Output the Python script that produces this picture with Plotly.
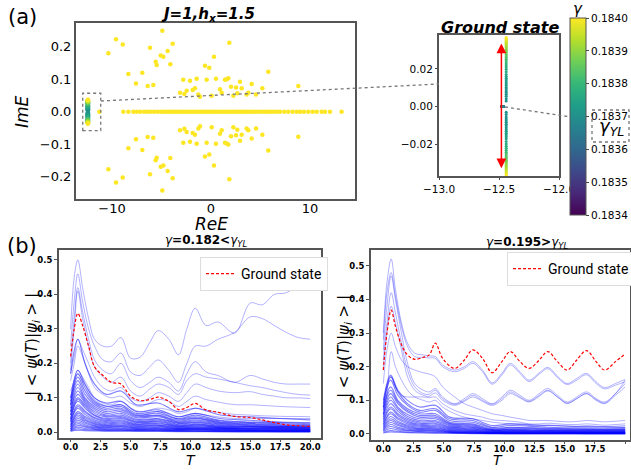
import plotly.graph_objects as go

W, H = 631, 470
def px(x): return x / W
def py(y): return 1 - y / H

# ---------------- (a) spectrum data ----------------
real_axis_re = [-11.28, -8.86, -8.35, -7.85, -7.5, -7.17, -6.77, -6.43, -6.09, -5.76, -5.42, -5.08, -4.81, -4.55,
                -4.3, -4.05, -3.8, -3.55, -3.3, -3.05, -2.8, -2.55, -2.3, -2.05, -1.8, -1.55, -1.3, -1.05, -0.8,
                -0.55, -0.3, -0.05, 0.2, 0.45, 0.7, 0.95, 1.2, 1.45, 1.7, 1.95, 2.2, 2.45, 2.7, 2.95, 3.2, 3.45,
                3.7, 3.95, 4.2, 4.5, 4.8, 5.1, 5.4, 5.7, 6.0, 6.3, 6.64, 6.97, 7.41, 7.81, 8.25, 8.66, 8.99, 9.39,
                9.83, 10.27, 10.67, 11.18, 11.52, 12.02, 13.2]
off_re = [-10.37, -9.6, -8.92, -8.35, -7.58, -6.94, -6.4, -6.16, -5.83, -5.59, -5.49, -5.08, -4.92, -4.81,
          -4.38, -4.11, -3.87, -3.13, -2.8, -2.69, -2.46, -2.12, -1.85, -1.62, -1.45, -1.28, -1.11, -0.61,
          -0.44, -0.17, 0.07, 0.3, 0.5, 0.91, 1.08, 1.41, 1.58, 1.75, 1.85, 2.02, 2.26, 2.53, 2.66, 2.93,
          3.1, 3.6, 3.77, 4.11, 4.55, 5.19, 5.79, 8.82]
off_im_upper = [0.180, 0.223, 0.207, 0.116, 0.087, 0.120, 0.079, 0.197, 0.082, 0.154, 0.144, 0.173, 0.249, 0.169,
                0.187, 0.146, 0.209, 0.058, 0.098, 0.054, 0.064, 0.095, 0.067, 0.072, 0.101, 0.053, 0.046, 0.141,
                0.098, 0.135, 0.049, 0.169, 0.101, 0.069, 0.058, 0.098, 0.100, 0.103, 0.212, 0.077, 0.049, 0.074,
                0.057, 0.092, 0.072, 0.053, 0.058, 0.085, 0.053, 0.072, 0.123, 0.079]
off_im_lower = [-0.177, -0.218, -0.203, -0.113, -0.085, -0.118, -0.078, -0.193, -0.080, -0.150, -0.142, -0.170,
                -0.243, -0.166, -0.183, -0.143, -0.205, -0.057, -0.096, -0.053, -0.063, -0.093, -0.066, -0.071,
                -0.099, -0.052, -0.045, -0.138, -0.096, -0.132, -0.048, -0.166, -0.099, -0.068, -0.057, -0.096,
                -0.098, -0.101, -0.208, -0.076, -0.048, -0.073, -0.056, -0.090, -0.071, -0.052, -0.057, -0.083,
                -0.052, -0.071, -0.120, -0.077]

# ground state sweep (gamma -> ImE), Re fixed
gs_re = -12.44
gs_gamma = [0.183701, 0.183702, 0.183704, 0.183706, 0.183708, 0.18371, 0.183713, 0.183716, 0.18372, 0.183724,
            0.183728, 0.183733, 0.183738, 0.183744, 0.18375, 0.18376, 0.18377, 0.18378, 0.18379, 0.1838,
            0.18381, 0.18382, 0.18383, 0.18384, 0.18385, 0.18386, 0.18387, 0.18388, 0.18389, 0.1839,
            0.18391, 0.18392, 0.18393, 0.18394, 0.18395, 0.18396, 0.18397, 0.18398, 0.18399, 0.184]
gs_im_upper = [0.0030, 0.0042, 0.0055, 0.0066, 0.0075, 0.0083, 0.0093, 0.0102, 0.0112, 0.0122, 0.0131, 0.0141,
               0.0150, 0.0160, 0.0170, 0.0185, 0.0198, 0.0210, 0.0221, 0.0232, 0.0242, 0.0251, 0.0260, 0.0268,
               0.0276, 0.0284, 0.0291, 0.0298, 0.0305, 0.0312, 0.0318, 0.0324, 0.0330, 0.0336, 0.0342, 0.0347,
               0.0352, 0.0357, 0.0362, 0.0367]
gs_im_lower = [-0.0030, -0.0042, -0.0055, -0.0066, -0.0075, -0.0083, -0.0093, -0.0102, -0.0112, -0.0122, -0.0131,
               -0.0141, -0.0150, -0.0160, -0.0170, -0.0185, -0.0198, -0.0210, -0.0221, -0.0232, -0.0242, -0.0251,
               -0.0260, -0.0268, -0.0276, -0.0284, -0.0291, -0.0298, -0.0305, -0.0312, -0.0318, -0.0324, -0.0330,
               -0.0336, -0.0342, -0.0347, -0.0352, -0.0357, -0.0362, -0.0367]
pre_re = -12.47
pre_gamma = [0.1834, 0.18345, 0.1835, 0.18355, 0.1836, 0.18365, 0.18368, 0.1837]
cbar_ticks = [0.1834, 0.1835, 0.1836, 0.1837, 0.1838, 0.1839, 0.1840]

# ---------------- (b) dynamics data ----------------
GL = [0, 0.3, 0.6, 1.0, 1.5, 2.0, 2.7, 3.4, 4.2, 5.0, 5.8, 6.6, 7.3, 8.2, 9.0, 9.7, 10.4, 11.3, 12.3, 13.7,
      15.0, 16.0, 17.0, 18.0, 19.0, 20.0]
left_ground = [0.22, 0.30, 0.345, 0.31, 0.25, 0.19, 0.165, 0.145, 0.14, 0.105, 0.092, 0.095, 0.102, 0.09, 0.066,
               0.072, 0.084, 0.065, 0.058, 0.046, 0.043, 0.036, 0.028, 0.022, 0.019, 0.017]
left_main = [
    [0.30, 0.45, 0.50, 0.42, 0.33, 0.27, 0.25, 0.25, 0.275, 0.215, 0.218, 0.26, 0.295, 0.27, 0.225, 0.30, 0.36,
     0.31, 0.32, 0.288, 0.375, 0.37, 0.40, 0.405, 0.43, 0.46],
    [0.25, 0.38, 0.46, 0.38, 0.30, 0.25, 0.21, 0.205, 0.23, 0.175, 0.165, 0.19, 0.21, 0.18, 0.145, 0.20, 0.25,
     0.25, 0.27, 0.29, 0.335, 0.33, 0.31, 0.29, 0.275, 0.27],
    [0.20, 0.33, 0.42, 0.35, 0.27, 0.21, 0.18, 0.17, 0.20, 0.15, 0.13, 0.145, 0.16, 0.145, 0.12, 0.17, 0.205,
     0.175, 0.165, 0.145, 0.165, 0.155, 0.145, 0.14, 0.14, 0.14],
    [0.18, 0.30, 0.41, 0.33, 0.25, 0.19, 0.16, 0.145, 0.16, 0.12, 0.105, 0.125, 0.14, 0.13, 0.11, 0.15, 0.17,
     0.16, 0.155, 0.145, 0.135, 0.13, 0.122, 0.115, 0.11, 0.108],
    [0.17, 0.22, 0.27, 0.24, 0.20, 0.16, 0.13, 0.12, 0.13, 0.10, 0.09, 0.10, 0.115, 0.105, 0.09, 0.115, 0.14,
     0.13, 0.12, 0.115, 0.118, 0.11, 0.105, 0.10, 0.10, 0.098],
    [0.15, 0.20, 0.25, 0.22, 0.17, 0.13, 0.11, 0.10, 0.105, 0.085, 0.075, 0.085, 0.095, 0.09, 0.075, 0.09, 0.105,
     0.095, 0.088, 0.08, 0.08, 0.078, 0.076, 0.074, 0.073, 0.072],
    [0.12, 0.15, 0.18, 0.16, 0.13, 0.10, 0.085, 0.08, 0.09, 0.07, 0.06, 0.065, 0.07, 0.065, 0.055, 0.06, 0.07,
     0.065, 0.058, 0.052, 0.05, 0.048, 0.047, 0.046, 0.046, 0.045],
    [0.10, 0.14, 0.17, 0.15, 0.12, 0.095, 0.08, 0.075, 0.08, 0.06, 0.05, 0.055, 0.06, 0.055, 0.045, 0.05, 0.055,
     0.05, 0.045, 0.04, 0.04, 0.04, 0.04, 0.04, 0.04, 0.04],
]
GLc = [0, 0.6, 1.2, 2.0, 3.0, 4.2, 5.5, 7.3, 9.0, 10.4, 12.5, 15.0, 17.5, 20.0]
left_low = [
    [0.17, 0.27, 0.20, 0.14, 0.11, 0.12, 0.08, 0.085, 0.06, 0.07, 0.05, 0.045, 0.04, 0.036],
    [0.10, 0.18, 0.14, 0.10, 0.085, 0.09, 0.06, 0.065, 0.045, 0.055, 0.04, 0.035, 0.03, 0.028],
    [0.09, 0.17, 0.13, 0.09, 0.075, 0.08, 0.055, 0.06, 0.04, 0.05, 0.035, 0.03, 0.028, 0.025],
    [0.08, 0.16, 0.12, 0.085, 0.07, 0.075, 0.05, 0.055, 0.038, 0.045, 0.033, 0.028, 0.025, 0.022],
    [0.08, 0.15, 0.11, 0.08, 0.065, 0.07, 0.048, 0.05, 0.035, 0.042, 0.03, 0.026, 0.022, 0.02],
    [0.07, 0.14, 0.10, 0.075, 0.06, 0.065, 0.045, 0.048, 0.032, 0.04, 0.028, 0.024, 0.02, 0.018],
    [0.06, 0.13, 0.095, 0.07, 0.055, 0.06, 0.042, 0.045, 0.03, 0.036, 0.026, 0.022, 0.018, 0.016],
    [0.06, 0.12, 0.09, 0.065, 0.05, 0.055, 0.038, 0.04, 0.028, 0.033, 0.024, 0.02, 0.017, 0.015],
    [0.05, 0.11, 0.085, 0.06, 0.047, 0.05, 0.035, 0.038, 0.026, 0.03, 0.022, 0.018, 0.016, 0.014],
    [0.05, 0.10, 0.08, 0.055, 0.044, 0.046, 0.032, 0.035, 0.024, 0.028, 0.02, 0.017, 0.015, 0.013],
    [0.04, 0.095, 0.075, 0.05, 0.04, 0.043, 0.03, 0.032, 0.022, 0.025, 0.018, 0.016, 0.014, 0.012],
    [0.04, 0.09, 0.07, 0.048, 0.037, 0.04, 0.028, 0.03, 0.02, 0.023, 0.017, 0.015, 0.013, 0.011],
    [0.035, 0.08, 0.062, 0.043, 0.034, 0.036, 0.025, 0.027, 0.018, 0.021, 0.015, 0.013, 0.012, 0.01],
    [0.03, 0.075, 0.058, 0.04, 0.031, 0.033, 0.023, 0.025, 0.017, 0.019, 0.014, 0.012, 0.011, 0.009],
    [0.03, 0.07, 0.052, 0.036, 0.028, 0.03, 0.021, 0.022, 0.015, 0.017, 0.013, 0.011, 0.01, 0.008],
    [0.025, 0.06, 0.046, 0.032, 0.025, 0.027, 0.019, 0.02, 0.014, 0.015, 0.012, 0.01, 0.009, 0.008],
    [0.02, 0.055, 0.042, 0.029, 0.022, 0.024, 0.017, 0.018, 0.012, 0.014, 0.011, 0.009, 0.008, 0.007],
    [0.02, 0.05, 0.038, 0.026, 0.02, 0.021, 0.015, 0.016, 0.011, 0.012, 0.01, 0.008, 0.007, 0.006],
    [0.015, 0.045, 0.034, 0.023, 0.018, 0.019, 0.013, 0.014, 0.01, 0.011, 0.009, 0.007, 0.006, 0.005],
    [0.015, 0.04, 0.03, 0.02, 0.016, 0.017, 0.012, 0.012, 0.009, 0.01, 0.008, 0.006, 0.005, 0.005],
    [0.01, 0.035, 0.026, 0.018, 0.014, 0.015, 0.01, 0.011, 0.008, 0.009, 0.007, 0.005, 0.005, 0.004],
    [0.01, 0.03, 0.022, 0.015, 0.012, 0.012, 0.009, 0.009, 0.007, 0.008, 0.006, 0.005, 0.004, 0.004],
    [0.008, 0.025, 0.018, 0.013, 0.01, 0.01, 0.008, 0.008, 0.006, 0.007, 0.005, 0.004, 0.004, 0.003],
    [0.006, 0.02, 0.015, 0.01, 0.008, 0.008, 0.006, 0.006, 0.005, 0.005, 0.004, 0.003, 0.003, 0.003],
    [0.005, 0.015, 0.011, 0.008, 0.006, 0.006, 0.005, 0.005, 0.004, 0.004, 0.003, 0.003, 0.002, 0.002],
    [0.004, 0.01, 0.008, 0.006, 0.005, 0.005, 0.004, 0.004, 0.003, 0.003, 0.002, 0.002, 0.002, 0.002],
    [0.003, 0.006, 0.005, 0.004, 0.003, 0.003, 0.003, 0.003, 0.002, 0.002, 0.002, 0.001, 0.001, 0.001],
]

GR = [0, 0.3, 0.65, 1.0, 1.5, 2.0, 2.6, 3.3, 3.8, 4.3, 4.9, 5.9, 6.7, 7.4, 8.2, 9.0, 9.8, 10.5, 11.3, 12.05,
      12.9, 13.6, 14.4, 15.2, 16.0, 16.8, 17.6, 18.3, 19.2, 20.0]
right_ground = [0.19, 0.30, 0.368, 0.32, 0.265, 0.235, 0.222, 0.228, 0.235, 0.27, 0.225, 0.195, 0.22, 0.25, 0.225,
                0.182, 0.215, 0.245, 0.215, 0.195, 0.22, 0.245, 0.215, 0.19, 0.22, 0.248, 0.215, 0.19, 0.215, 0.238]
right_main = [
    [0.30, 0.45, 0.52, 0.43, 0.33, 0.27, 0.24, 0.235, 0.232, 0.23, 0.205, 0.19, 0.20, 0.215, 0.19, 0.152, 0.18,
     0.21, 0.185, 0.16, 0.182, 0.198, 0.172, 0.15, 0.165, 0.18, 0.155, 0.138, 0.15, 0.162],
    [0.28, 0.42, 0.48, 0.41, 0.32, 0.26, 0.23, 0.228, 0.226, 0.225, 0.20, 0.185, 0.195, 0.21, 0.185, 0.148, 0.175,
     0.205, 0.18, 0.156, 0.178, 0.194, 0.168, 0.147, 0.16, 0.176, 0.15, 0.134, 0.145, 0.155],
    [0.25, 0.38, 0.47, 0.40, 0.30, 0.21, 0.15, 0.13, 0.125, 0.135, 0.11, 0.09, 0.105, 0.12, 0.105, 0.09, 0.11,
     0.13, 0.115, 0.10, 0.12, 0.135, 0.115, 0.095, 0.11, 0.125, 0.105, 0.095, 0.12, 0.15],
    [0.22, 0.33, 0.42, 0.36, 0.27, 0.19, 0.14, 0.12, 0.118, 0.13, 0.105, 0.088, 0.10, 0.115, 0.10, 0.088, 0.105,
     0.125, 0.11, 0.097, 0.115, 0.13, 0.11, 0.092, 0.105, 0.12, 0.10, 0.09, 0.115, 0.14],
    [0.20, 0.30, 0.38, 0.33, 0.25, 0.17, 0.13, 0.115, 0.112, 0.122, 0.10, 0.085, 0.097, 0.11, 0.097, 0.085, 0.10,
     0.12, 0.107, 0.095, 0.112, 0.128, 0.11, 0.09, 0.105, 0.12, 0.102, 0.092, 0.12, 0.16],
    [0.15, 0.25, 0.30, 0.26, 0.22, 0.20, 0.19, 0.182, 0.178, 0.17, 0.14, 0.11, 0.09, 0.08, 0.07, 0.06, 0.055,
     0.05, 0.045, 0.04, 0.04, 0.04, 0.038, 0.036, 0.037, 0.04, 0.038, 0.036, 0.038, 0.04],
    [0.08, 0.14, 0.17, 0.14, 0.115, 0.11, 0.11, 0.11, 0.108, 0.11, 0.09, 0.07, 0.06, 0.055, 0.05, 0.042, 0.04,
     0.038, 0.035, 0.03, 0.03, 0.032, 0.03, 0.028, 0.028, 0.03, 0.028, 0.026, 0.028, 0.03],
    [0.06, 0.12, 0.245, 0.20, 0.16, 0.13, 0.11, 0.10, 0.095, 0.10, 0.08, 0.06, 0.05, 0.045, 0.04, 0.035, 0.032,
     0.03, 0.028, 0.025, 0.025, 0.027, 0.025, 0.023, 0.022, 0.025, 0.023, 0.022, 0.023, 0.025],
]
GRc = [0, 0.6, 1.2, 2.0, 3.0, 4.3, 5.5, 7.4, 9.0, 10.5, 13.6, 16.8, 20.0]
right_low = [
    [0.10, 0.175, 0.13, 0.10, 0.08, 0.085, 0.05, 0.045, 0.025, 0.03, 0.025, 0.022, 0.02],
    [0.09, 0.17, 0.125, 0.09, 0.07, 0.075, 0.045, 0.04, 0.02, 0.025, 0.02, 0.018, 0.018],
    [0.08, 0.16, 0.115, 0.085, 0.065, 0.07, 0.04, 0.035, 0.018, 0.02, 0.017, 0.015, 0.015],
    [0.075, 0.14, 0.10, 0.075, 0.06, 0.06, 0.035, 0.03, 0.015, 0.018, 0.015, 0.013, 0.013],
    [0.07, 0.13, 0.095, 0.07, 0.055, 0.055, 0.032, 0.027, 0.013, 0.015, 0.013, 0.012, 0.012],
    [0.06, 0.12, 0.09, 0.065, 0.05, 0.05, 0.03, 0.024, 0.012, 0.013, 0.011, 0.01, 0.01],
    [0.055, 0.11, 0.08, 0.058, 0.045, 0.045, 0.027, 0.021, 0.011, 0.012, 0.01, 0.009, 0.009],
    [0.05, 0.10, 0.075, 0.052, 0.04, 0.04, 0.024, 0.019, 0.01, 0.01, 0.009, 0.008, 0.008],
    [0.045, 0.09, 0.068, 0.047, 0.036, 0.036, 0.021, 0.017, 0.009, 0.009, 0.008, 0.007, 0.007],
    [0.04, 0.08, 0.06, 0.042, 0.032, 0.032, 0.019, 0.015, 0.008, 0.008, 0.007, 0.006, 0.006],
    [0.035, 0.075, 0.055, 0.038, 0.029, 0.029, 0.017, 0.013, 0.007, 0.007, 0.006, 0.005, 0.005],
    [0.03, 0.065, 0.048, 0.034, 0.026, 0.025, 0.015, 0.011, 0.006, 0.006, 0.005, 0.005, 0.005],
    [0.027, 0.06, 0.044, 0.03, 0.023, 0.022, 0.013, 0.01, 0.005, 0.005, 0.005, 0.004, 0.004],
    [0.023, 0.052, 0.038, 0.026, 0.02, 0.019, 0.011, 0.008, 0.004, 0.004, 0.004, 0.004, 0.004],
    [0.02, 0.045, 0.033, 0.023, 0.017, 0.016, 0.01, 0.007, 0.004, 0.004, 0.003, 0.003, 0.003],
    [0.017, 0.04, 0.029, 0.02, 0.015, 0.014, 0.008, 0.006, 0.003, 0.003, 0.003, 0.003, 0.003],
    [0.014, 0.034, 0.025, 0.017, 0.013, 0.012, 0.007, 0.005, 0.003, 0.003, 0.002, 0.002, 0.002],
    [0.012, 0.028, 0.02, 0.014, 0.011, 0.01, 0.006, 0.004, 0.002, 0.002, 0.002, 0.002, 0.002],
    [0.01, 0.022, 0.016, 0.011, 0.009, 0.008, 0.005, 0.003, 0.002, 0.002, 0.002, 0.001, 0.001],
    [0.008, 0.016, 0.012, 0.009, 0.007, 0.006, 0.004, 0.003, 0.002, 0.001, 0.001, 0.001, 0.001],
    [0.005, 0.01, 0.008, 0.006, 0.005, 0.004, 0.003, 0.002, 0.001, 0.001, 0.001, 0.001, 0.001],
    [0.003, 0.006, 0.005, 0.004, 0.003, 0.002, 0.002, 0.001, 0.001, 0.001, 0.001, 0.001, 0.001],
]
t_ticks = [0, 2.5, 5, 7.5, 10, 12.5, 15, 17.5, 20]
v_ticks = [0, 0.1, 0.2, 0.3, 0.4, 0.5]

YELLOW = "#fde725"
FRAME = "#555555"
FONT = "DejaVu Sans"
BLUE = "rgba(0,0,255,0.30)"
BLUE_LOW = "rgba(0,0,255,0.5)"

fig = go.Figure()

# ---- (a) main spectrum ----
fig.add_trace(go.Scatter(x=real_axis_re, y=[0] * len(real_axis_re), mode="markers",
                         marker=dict(color=YELLOW, size=4.5), xaxis="x", yaxis="y", showlegend=False))
fig.add_trace(go.Scatter(x=off_re, y=off_im_upper, mode="markers",
                         marker=dict(color=YELLOW, size=4.5), xaxis="x", yaxis="y", showlegend=False))
fig.add_trace(go.Scatter(x=off_re, y=off_im_lower, mode="markers",
                         marker=dict(color=YELLOW, size=4.5), xaxis="x", yaxis="y", showlegend=False))
for ims in (gs_im_upper, gs_im_lower):
    fig.add_trace(go.Scatter(x=[gs_re] * len(ims), y=ims, mode="markers",
                             marker=dict(color=gs_gamma, coloraxis="coloraxis", size=4.5),
                             xaxis="x", yaxis="y", showlegend=False))

# ---- inset ----
for ims in (gs_im_upper, gs_im_lower):
    fig.add_trace(go.Scatter(x=[gs_re] * len(ims), y=ims, mode="markers",
                             marker=dict(color=gs_gamma, coloraxis="coloraxis", size=3),
                             xaxis="x2", yaxis="y2", showlegend=False))
fig.add_trace(go.Scatter(x=[pre_re] * len(pre_gamma), y=[0] * len(pre_gamma), mode="markers",
                         marker=dict(color=pre_gamma, coloraxis="coloraxis", size=3, symbol="line-ew-open",
                                     line=dict(width=2)),
                         xaxis="x2", yaxis="y2", showlegend=False))

# ---- (b) dynamics ----
for ys in left_low:
    fig.add_trace(go.Scatter(x=GLc, y=ys, mode="lines", line=dict(color=BLUE_LOW, width=1.1, shape="spline"),
                             xaxis="x3", yaxis="y3", showlegend=False, hoverinfo="skip"))
for ys in left_main:
    fig.add_trace(go.Scatter(x=GL, y=ys, mode="lines", line=dict(color=BLUE, width=1, shape="spline"),
                             xaxis="x3", yaxis="y3", showlegend=False, hoverinfo="skip"))
fig.add_trace(go.Scatter(x=GL, y=left_ground, mode="lines", name="Ground state",
                         line=dict(color="red", width=1.2, dash="3px,2px", shape="spline"),
                         xaxis="x3", yaxis="y3", showlegend=True, legend="legend"))
for ys in right_low:
    fig.add_trace(go.Scatter(x=GRc, y=ys, mode="lines", line=dict(color=BLUE_LOW, width=1.1, shape="spline"),
                             xaxis="x4", yaxis="y4", showlegend=False, hoverinfo="skip"))
for ys in right_main:
    fig.add_trace(go.Scatter(x=GR, y=ys, mode="lines", line=dict(color=BLUE, width=1, shape="spline"),
                             xaxis="x4", yaxis="y4", showlegend=False, hoverinfo="skip"))
fig.add_trace(go.Scatter(x=GR, y=right_ground, mode="lines", name="Ground state",
                         line=dict(color="red", width=1.2, dash="3px,2px", shape="spline"),
                         xaxis="x4", yaxis="y4", showlegend=True, legend="legend2"))

frame = dict(showline=True, linecolor=FRAME, linewidth=2, mirror=True, showgrid=False, zeroline=False,
             automargin=False)
big_tick = dict(family=FONT, size=13, color="black")
small_bold = dict(family=FONT, size=8.5, color="black", weight="bold")

fig.update_layout(
    width=W, height=H, margin=dict(l=0, r=0, t=0, b=0, autoexpand=False),
    paper_bgcolor="white", plot_bgcolor="white",
    xaxis=dict(domain=[px(76), px(355)], range=[-13.64, 14.55], anchor="y", tickvals=[-10, 0, 10],
               ticks="", tickfont=big_tick, ticklabelstandoff=-4, **frame),
    yaxis=dict(domain=[py(199), py(23)], range=[-0.269, 0.273], anchor="x",
               tickvals=[-0.2, -0.1, 0, 0.1, 0.2], tickformat=".1f", ticks="", tickfont=big_tick, **frame),
    xaxis2=dict(domain=[px(439), px(559)], range=[-13.0, -12.0], anchor="y2",
                tickvals=[-13.0, -12.5, -12.0], tickformat=".1f", ticks="outside", ticklen=2,
                tickfont=dict(family=FONT, size=10.5, color="black"), **frame),
    yaxis2=dict(domain=[py(176), py(35)], range=[-0.0368, 0.038], anchor="x2",
                tickvals=[-0.02, 0, 0.02], tickformat=".2f", ticks="outside", ticklen=2,
                tickfont=dict(family=FONT, size=10.5, color="black"), **frame),
    xaxis3=dict(domain=[px(59), px(321)], range=[-0.97, 20.9], anchor="y3", tickvals=t_ticks,
                tickformat=".1f", ticks="outside", ticklen=2, tickcolor=FRAME, tickfont=small_bold,
                ticklabelstandoff=-2, **frame),
    yaxis3=dict(domain=[py(438), py(250)], range=[-0.0165, 0.529], anchor="x3", tickvals=v_ticks,
                tickformat=".1f", ticks="outside", ticklen=3, tickcolor=FRAME, tickfont=small_bold, **frame),
    xaxis4=dict(domain=[px(371), px(630)], range=[-1.02, 20.4], anchor="y4", tickvals=t_ticks,
                tickformat=".1f", ticks="outside", ticklen=2, tickcolor=FRAME, tickfont=small_bold,
                ticklabelstandoff=-2, **frame),
    yaxis4=dict(domain=[py(440), py(250)], range=[-0.018, 0.547], anchor="x4", tickvals=v_ticks,
                tickformat=".1f", ticks="outside", ticklen=3, tickcolor=FRAME, tickfont=small_bold, **frame),
    coloraxis=dict(cmin=0.1834, cmax=0.1840, colorscale="Viridis",
                   colorbar=dict(x=px(570), xanchor="left", y=py(18), yanchor="top", len=(215 - 18) / H,
                                 lenmode="fraction", thickness=16, thicknessmode="pixels",
                                 outlinecolor=FRAME, outlinewidth=1, tickvals=cbar_ticks, tickformat=".4f",
                                 ticks="outside", ticklen=3, tickfont=dict(family=FONT, size=10.5, color="black"),
                                 xpad=0, ypad=0)),
    legend=dict(x=px(200), y=py(257), xanchor="left", yanchor="top", bgcolor="white",
                bordercolor="#dddddd", borderwidth=1, itemwidth=30,
                font=dict(family="Roboto", size=14, color="black")),
    legend2=dict(x=px(507), y=py(252), xanchor="left", yanchor="top", bgcolor="white",
                 bordercolor="#dddddd", borderwidth=1, itemwidth=30,
                 font=dict(family="Roboto", size=14, color="black")),
)

def ann(x, y, text, size, angle=0, **kw):
    fig.add_annotation(x=px(x), y=py(y), xref="paper", yref="paper", text=text, showarrow=False,
                       xanchor="center", yanchor="middle", textangle=angle,
                       font=dict(family=FONT, size=size, color="black"), **kw)

ann(22, 17, "(a)", 21)
ann(22, 246, "(b)", 21)
ann(208, 14, "<b><i>J=1,h<sub>x</sub>=1.5</i></b>", 15)
ann(22, 112, "<i>ImE</i>", 17, -90)
ann(211, 224, "<i>ReE</i>", 17)
ann(500, 27, "<b><i>Ground state</i></b>", 16)
ann(578, 9, "<i>γ</i>", 15)
ann(611, 127, "<i>γ<sub>YL</sub></i>", 18)
ann(206, 241, "<i>γ</i><b>=0.182&lt;</b><i>γ<sub>YL</sub></i>", 12)
ann(527, 243, "<i>γ</i><b>=0.195&gt;</b><i>γ<sub>YL</sub></i>", 12)
ann(32, 345, "| &lt; <i>ψ</i>(<i>T</i>)|<i>ψ<sub>i</sub></i> &gt; |", 15, -90)
ann(344, 347, "| &lt; <i>ψ</i>(<i>T</i>)|<i>ψ<sub>i</sub></i> &gt; |", 15, -90)
ann(191, 460, "<i>T</i>", 14)
ann(498, 460, "<i>T</i>", 14)

# red double arrow in inset
fig.add_annotation(x=-12.48, y=0.0335, ax=-12.48, ay=-0.0335, xref="x2", yref="y2", axref="x2", ayref="y2",
                   text="", showarrow=True, arrowhead=2, startarrowhead=2, arrowside="end+start",
                   arrowcolor="red", arrowwidth=1.5, arrowsize=1.3, startarrowsize=1.3)

dot = dict(color="#777777", width=1.3, dash="dot")
fig.add_shape(type="rect", xref="x", yref="y", x0=-12.96, x1=-11.14, y0=-0.0585, y1=0.0566, line=dot)
fig.add_shape(type="line", xref="paper", yref="paper", x0=px(101), y0=py(101), x1=px(439), y1=py(84), line=dot)
fig.add_shape(type="line", xref="paper", yref="paper", x0=px(505), y0=py(107), x1=px(571), y1=py(117), line=dot)
fig.add_shape(type="rect", xref="paper", yref="paper", x0=px(592), y0=py(110), x1=px(629), y1=py(142), line=dot)

fig.write_html("out.html", config={"displayModeBar": False},
               post_script="document.body.style.margin='0px';document.body.style.padding='0px';")
